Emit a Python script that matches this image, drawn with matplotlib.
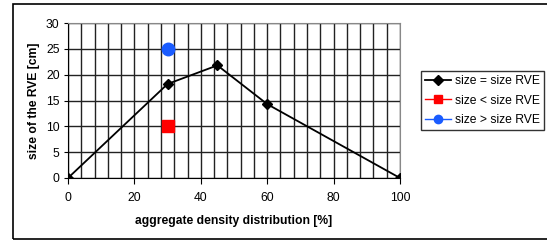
import matplotlib
matplotlib.use('Agg')
import matplotlib.pyplot as plt
from matplotlib.patches import Rectangle
import numpy as np

plt.rcParams['font.family'] = ['Liberation Sans', 'DejaVu Sans']

# data
density = [0, 30, 45, 60, 100]
rve_size = [0, 18.2, 21.8, 14.3, 0]
smaller_x = [30]
smaller_y = [10]
larger_x = [30]
larger_y = [25]

fig = plt.figure(figsize=(5.47, 2.40), dpi=100)
ax = fig.add_axes([68 / 547, 1 - 178 / 240, 332 / 547, 155 / 240])

ax.plot(density, rve_size, color='black', marker='D', markersize=5.5, lw=1.3,
        label='size = size RVE', zorder=3)
ax.plot(smaller_x, smaller_y, color='red', marker='s', markersize=8, lw=1,
        linestyle='none', label='size < size RVE', zorder=3)
ax.plot(larger_x, larger_y, color='#1a5cff', marker='o', markersize=9, lw=1,
        linestyle='none', label='size > size RVE', zorder=3)

ax.set_xlim(0, 100)
ax.set_ylim(0, 30)
ax.set_xticks(np.arange(0, 101, 20))
ax.set_xticks(np.arange(0, 101, 4), minor=True)
ax.set_yticks(np.arange(0, 31, 5))
ax.grid(True, which='both', axis='x', color='#222222', lw=1.0)
ax.grid(True, which='major', axis='y', color='#222222', lw=1.0)
ax.tick_params(axis='x', which='minor', length=0)
ax.tick_params(axis='x', which='major', direction='out', length=4, pad=6)
ax.tick_params(axis='y', which='major', direction='out', length=3, pad=3)
ax.tick_params(labelsize=8.7)
for s in ax.spines.values():
    s.set_color('#888888')
ax.spines['bottom'].set_color('black')
ax.spines['left'].set_color('black')

ax.set_xlabel('aggregate density distribution [%]', fontsize=8.7,
              fontweight='bold', labelpad=8)
ax.set_ylabel('size of the RVE [cm]', fontsize=8.7, fontweight='bold',
              labelpad=4)

# legend with connecting lines like Excel
h1, = plt.plot([], [], color='black', marker='D', markersize=5, lw=1.3)
h2, = plt.plot([], [], color='red', marker='s', markersize=6, lw=1)
h3, = plt.plot([], [], color='#1a5cff', marker='o', markersize=6, lw=1)
leg = fig.legend([h1, h2, h3],
                 ['size = size RVE', 'size < size RVE', 'size > size RVE'],
                 loc='upper left', bbox_to_anchor=(421 / 547, 1 - 71 / 240),
                 fontsize=8.7, frameon=True, fancybox=False, edgecolor='black',
                 borderpad=0.35, labelspacing=0.62, handlelength=2.15,
                 handletextpad=0.3, borderaxespad=0)
leg.get_frame().set_linewidth(1.0)

# outer chart border (right edge falls outside the picture)
fig.patches.append(Rectangle((12.5 / 547, 1.5 / 240), 540 / 547, 234.5 / 240,
                             transform=fig.transFigure, fill=False,
                             edgecolor='black', lw=1.2))

fig.savefig('out.png', dpi=100)
